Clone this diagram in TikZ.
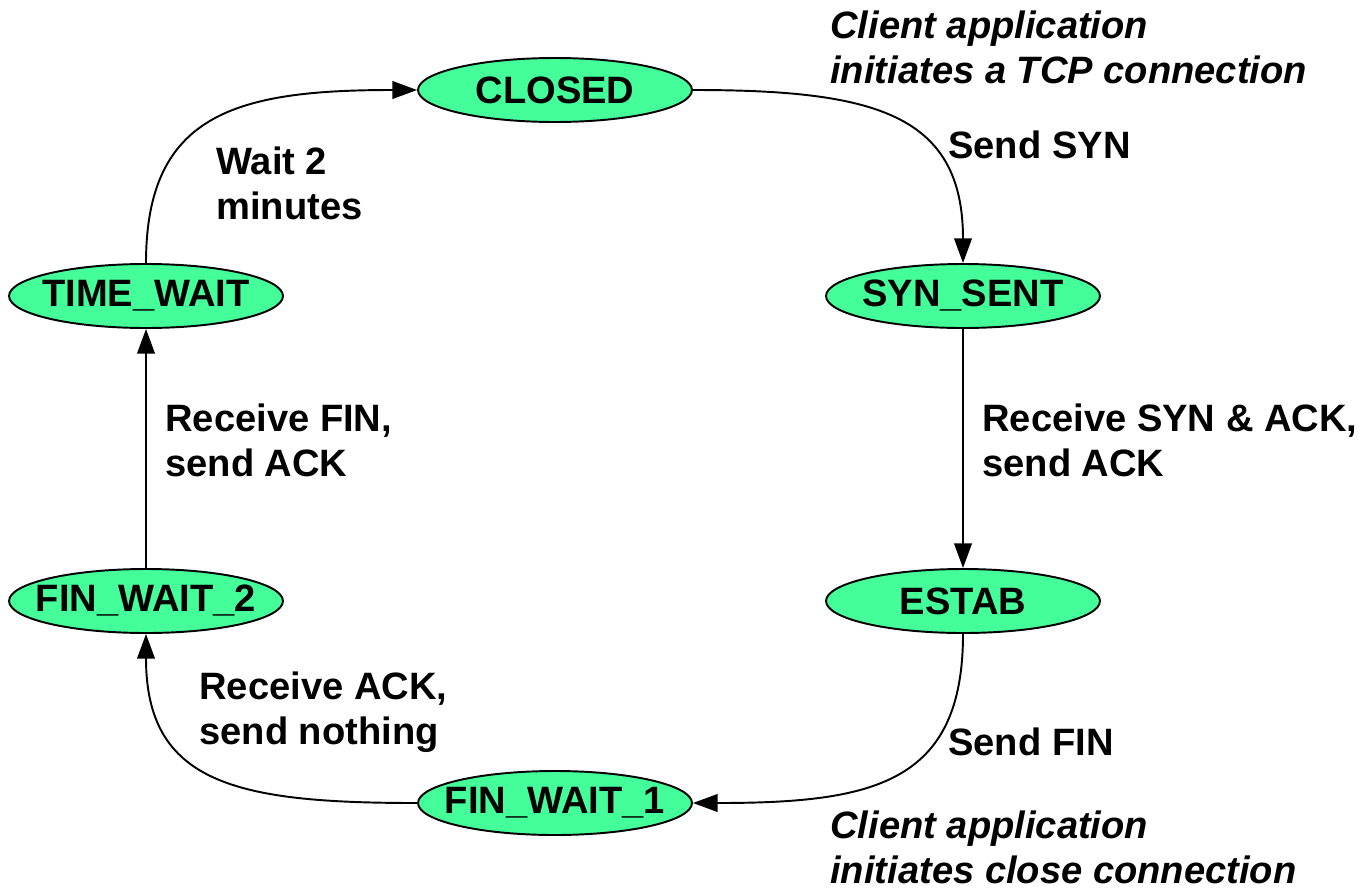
\documentclass[tikz,border=0pt]{standalone}
\usepackage{fontspec}
\setmainfont{Liberation Sans}
\usetikzlibrary{shapes.geometric,arrows.meta}
\definecolor{statefill}{HTML}{44FF99}
\newcommand{\statetext}[1]{\makebox[0pt]{#1}}
\begin{document}
\begin{tikzpicture}[x=0.02cm,y=-0.02cm,
  state/.style={ellipse,draw=black,line width=1.1pt,fill=statefill,
    minimum width=5.48cm,minimum height=1.28cm,inner sep=0pt,
    font=\fontsize{21.7}{25.5}\selectfont\bfseries},
  edge/.style={line width=1.1pt,-{Triangle[length=14pt,width=10pt]}},
  lbl/.style={anchor=west,align=left,inner sep=0pt,
    font=\fontsize{21.7}{25.5}\selectfont\bfseries},
  note/.style={lbl,font=\fontsize{21.7}{25.5}\selectfont\bfseries\itshape}]
\useasboundingbox (0,0) rectangle (1364,889);

% states
\node[state] (closed)  at (555,90)  {\statetext{CLOSED}};
\node[state] (synsent) at (963,296) {\statetext{SYN\_SENT}};
\node[state] (estab)   at (963,601) {\statetext{ESTAB}};
\node[state] (fw1)     at (555,803) {\statetext{FIN\_WAIT\_1}};
\node[state] (fw2)     at (146,601) {\statetext{FIN\_WAIT\_2}};
\node[state] (tw)      at (146,296) {\statetext{TIME\_WAIT}};

% transitions
\draw[edge] (closed.east) .. controls +(180,0) and +(0,-150) .. (synsent.north);
\draw[edge] (synsent.south) -- (estab.north);
\draw[edge] (estab.south) .. controls +(0,150) and +(180,0) .. (fw1.east);
\draw[edge] (fw1.west) .. controls +(-180,0) and +(0,150) .. (fw2.south);
\draw[edge] (fw2.north) -- (tw.south);
\draw[edge] (tw.north) .. controls +(0,-150) and +(-180,0) .. (closed.west);

% labels
\node[note] (n1) at (830,47.5) {Client application\\initiates a TCP connection};
\node[lbl]  (l1) at (948,145)  {Send SYN};
\node[lbl]  (l2) at (982,440)  {Receive SYN \& ACK,\\send ACK};
\node[lbl]  (l3) at (948,742)  {Send FIN};
\node[note] (n2) at (830,847)  {Client application\\initiates close connection};
\node[lbl]  (l4) at (199,712)  {Receive ACK,\\send nothing};
\node[lbl]  (l5) at (165,440)  {Receive FIN,\\send ACK};
\node[lbl]  (l6) at (216,183)  {Wait 2\\minutes};
\end{tikzpicture}
\end{document}
